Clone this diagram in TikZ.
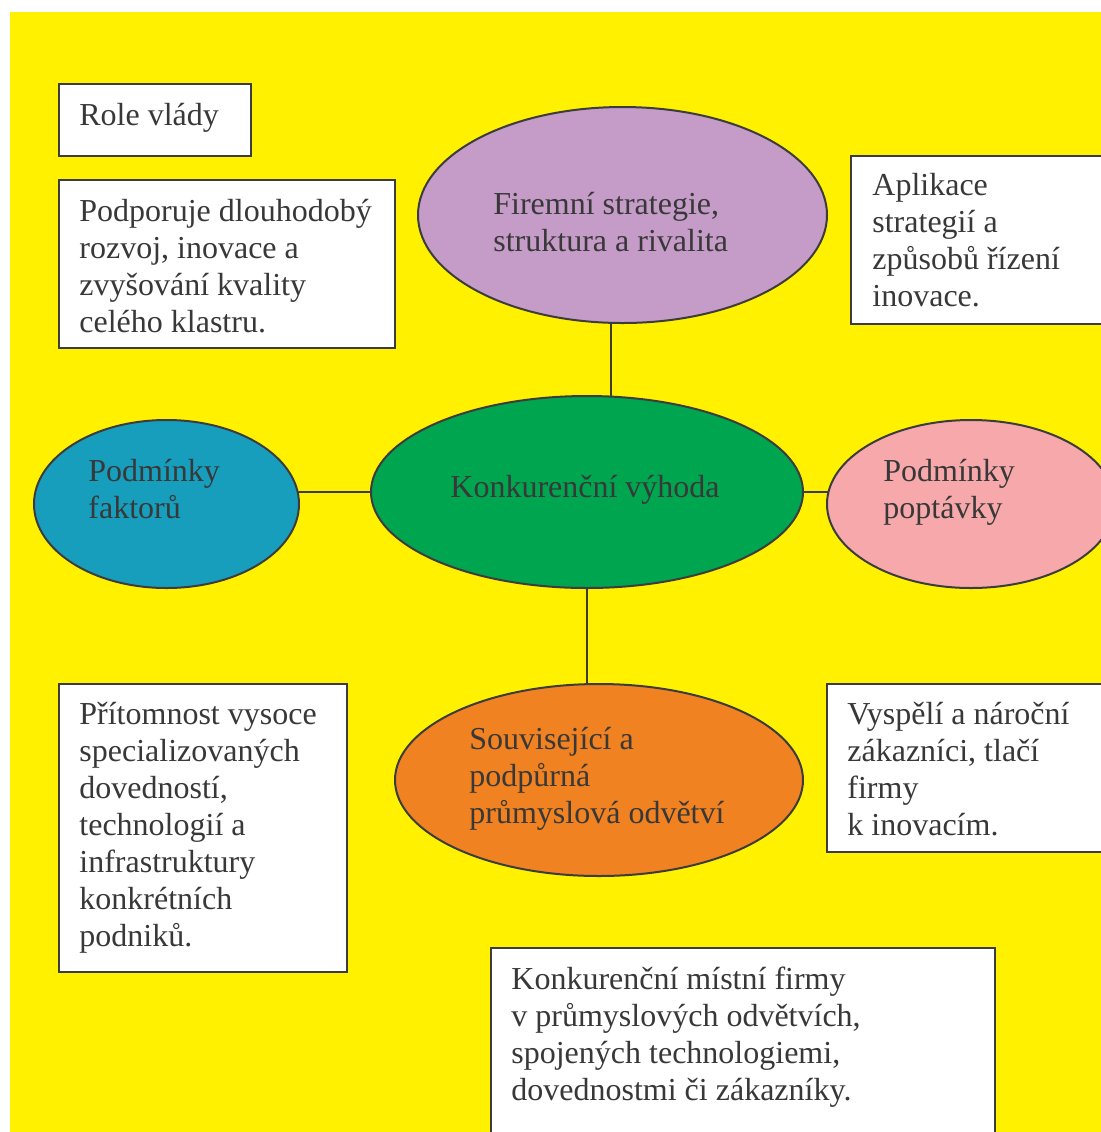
\documentclass[tikz,border=0pt]{standalone}
\usepackage{fontspec}
\setmainfont{Liberation Serif}
\usetikzlibrary{shapes.geometric,calc}
\definecolor{bgyellow}{HTML}{FFF100}
\definecolor{cpurple}{HTML}{C59BC7}
\definecolor{cgreen}{HTML}{00A54F}
\definecolor{cblue}{HTML}{179EBD}
\definecolor{cpink}{HTML}{F6A8AA}
\definecolor{corange}{HTML}{F18221}
\definecolor{linegray}{HTML}{3C3C3C}
\definecolor{textgray}{HTML}{383838}
\begin{document}
\begin{tikzpicture}[x=0.5pt,y=-0.5pt,
  ell/.style={ellipse, draw=linegray, line width=1pt, inner sep=0pt, outer sep=0pt},
  tbox/.style={rectangle, draw=linegray, line width=1pt, fill=white, inner sep=0pt, outer sep=0pt},
  txt/.style={font=\fontsize{16pt}{18.5pt}\selectfont, text=textgray, align=left, inner sep=0pt, anchor=base west},
  conn/.style={draw=linegray, line width=1pt}]
\useasboundingbox (0,0) rectangle (1101,1132);
\clip (0,0) rectangle (1101,1132);
\fill[white] (0,0) rectangle (1101,1132);
\fill[bgyellow] (10,12) rectangle (1101,1132);

% boxes
\node[tbox, minimum width=96pt, minimum height=36pt] (role) at (155,120) {};
\node[tbox, minimum width=168pt, minimum height=84pt] (podp) at (227,264) {};
\node[tbox, minimum width=134.5pt, minimum height=84pt] (apl) at (985.5,240) {};
\node[tbox, minimum width=144pt, minimum height=144pt] (prit) at (203,828) {};
\node[tbox, minimum width=146.5pt, minimum height=84pt] (vysp) at (973.5,768) {};
\node[tbox, minimum width=252pt, minimum height=101pt] (konk) at (743,1049) {};

% ellipses
\node[ell, fill=cpurple, minimum width=204.5pt, minimum height=108pt] (firm) at (622.5,215) {};
\node[ell, fill=cgreen, minimum width=216pt, minimum height=96pt] (vyh) at (587,492) {};
\node[ell, fill=cblue, minimum width=132.5pt, minimum height=84pt] (fakt) at (166.5,504) {};
\node[ell, fill=cpink, minimum width=144pt, minimum height=84pt] (popt) at (971,504) {};
\node[ell, fill=corange, minimum width=204pt, minimum height=96pt] (souv) at (599,780) {};

% connectors
\draw[conn] ($(firm.center)+(-11.5,107.8)$) -- ($(vyh.center)+(24,-95.4)$);
\draw[conn] ($(fakt.center)+(131.1,-12)$) -- (vyh.west);
\draw[conn] (vyh.east) -- ($(popt.center)+(-142.5,-12)$);
\draw[conn] (vyh.south) -- ($(souv.center)+(-12,-95.8)$);

% texts (anchor = baseline of last line)
\node[txt] (trole) at (79,125) {Role vlády};
\node[txt] (tpodp) at (79,332) {Podporuje dlouhodobý\\rozvoj, inovace a\\zvyšování kvality\\celého klastru.};
\node[txt] (tapl) at (872,306) {Aplikace\\strategií a\\způsobů řízení\\inovace.};
\node[txt] (tfirm) at (493,251) {Firemní strategie,\\struktura a rivalita};
\node[txt] (tvyh) at (450,497) {Konkurenční výhoda};
\node[txt] (tfakt) at (88,518) {Podmínky\\faktorů};
\node[txt] (tpopt) at (883,518) {Podmínky\\poptávky};
\node[txt] (tsouv) at (469,823) {Související a\\podpůrná\\průmyslová odvětví};
\node[txt] (tprit) at (79,946) {Přítomnost vysoce\\specializovaných\\dovedností,\\technologií a\\infrastruktury\\konkrétních\\podniků.};
\node[txt] (tvysp) at (847,835) {Vyspělí a nároční\\zákazníci, tlačí\\firmy\\k inovacím.};
\node[txt] (tkonk) at (511,1100) {Konkurenční místní firmy\\v průmyslových odvětvích,\\spojených technologiemi,\\dovednostmi či zákazníky.};
\end{tikzpicture}
\end{document}
